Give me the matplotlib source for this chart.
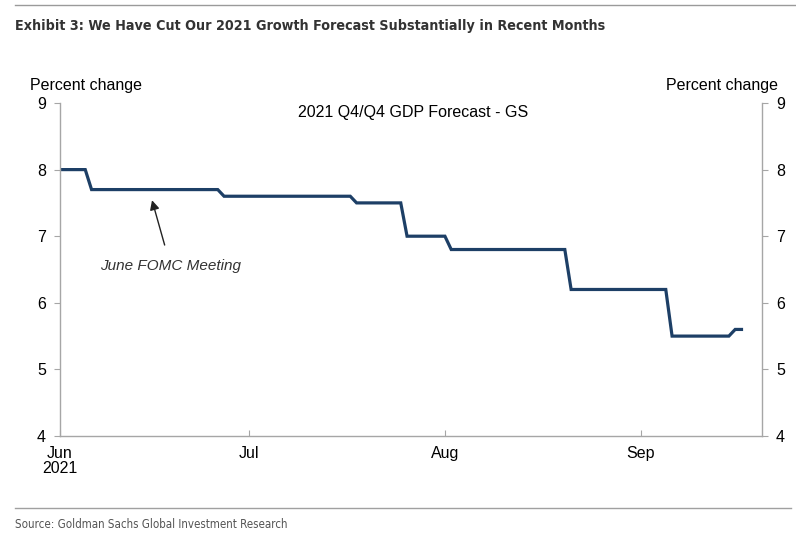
import matplotlib
matplotlib.use("Agg")
import matplotlib.pyplot as plt
import matplotlib.dates as mdates
import numpy as np
import datetime as dt

plt.rcParams['font.family'] = ['Liberation Sans', 'DejaVu Sans']

# Vertices of the forecast line (date, percent change)
dates = ["2021-06-01", "2021-06-05", "2021-06-06", "2021-06-26", "2021-06-27",
         "2021-07-17", "2021-07-18", "2021-07-25", "2021-07-26", "2021-08-01",
         "2021-08-02", "2021-08-20", "2021-08-21", "2021-09-05", "2021-09-06",
         "2021-09-15", "2021-09-16", "2021-09-17"]
values = [8.0, 8.0, 7.7, 7.7, 7.6,
          7.6, 7.5, 7.5, 7.0, 7.0,
          6.8, 6.8, 6.2, 6.2, 5.5,
          5.5, 5.6, 5.6]

tick_dates = ["2021-06-01", "2021-07-01", "2021-08-01", "2021-09-01"]
tick_labels = ["Jun\n2021", "Jul", "Aug", "Sep"]
yticks = [4, 5, 6, 7, 8, 9]

x = [dt.datetime.strptime(d, "%Y-%m-%d") for d in dates]
xt = [dt.datetime.strptime(d, "%Y-%m-%d") for d in tick_dates]

fig = plt.figure(figsize=(7.96, 5.35), dpi=100)
ax = fig.add_axes([60/796, 1-436/535, (762-60)/796, (436-103)/535])

line_color = "#1d3f66"
ax.plot(x, values, color=line_color, lw=2.3, solid_joinstyle='miter')

ax.set_xlim(dt.datetime(2021, 6, 1), dt.datetime(2021, 9, 20, 6))
ax.set_ylim(4, 9)
ax.set_yticks(yticks)
ax.set_xticks(xt)
ax.set_xticklabels(tick_labels, fontsize=11.5, linespacing=1.0)

spine_c = "#a6a6a6"
for s in ['left', 'right', 'bottom']:
    ax.spines[s].set_color(spine_c)
    ax.spines[s].set_linewidth(1.0)
ax.spines['top'].set_visible(False)

ax.tick_params(axis='y', which='both', left=True, right=True, labelleft=True,
               labelright=True, direction='out', length=4, color=spine_c,
               labelsize=11.5, pad=6)
ax.tick_params(axis='x', direction='in', length=4, color=spine_c, labelsize=11.5, pad=7)

ax.text(-0.043, 1.03, "Percent change", transform=ax.transAxes, fontsize=11.5,
        ha='left', va='bottom')
ax.text(1.023, 1.03, "Percent change", transform=ax.transAxes, fontsize=11.5,
        ha='right', va='bottom')
ax.text(0.503, 0.995, "2021 Q4/Q4 GDP Forecast - GS", transform=ax.transAxes,
        fontsize=11.5, ha='center', va='top')

ax.annotate("June FOMC Meeting", xy=(dt.datetime(2021, 6, 15, 14), 7.54),
            xytext=(dt.datetime(2021, 6, 18, 12), 6.56),
            fontsize=11, style='italic', color='#333333', ha='center', va='center',
            arrowprops=dict(arrowstyle='-|>', color='#222222', lw=1.0,
                            mutation_scale=14, shrinkA=8, shrinkB=0))

# Title and frame lines
fig.add_artist(plt.Line2D([15/796, 1.0], [1-5/535, 1-5/535], transform=fig.transFigure,
                          color="#9a9a9a", lw=1.0))
fig.text(15/796, 1-26/535, "Exhibit 3: We Have Cut Our 2021 Growth Forecast Substantially in Recent Months",
         fontsize=10.3, fontweight='bold', color="#333333", ha='left', va='center',
         family='DejaVu Sans', fontstretch='condensed')
fig.add_artist(plt.Line2D([15/796, 791/796], [1-508/535, 1-508/535], transform=fig.transFigure,
                          color="#a0a0a0", lw=1.0))
fig.text(15/796, 1-524/535, "Source: Goldman Sachs Global Investment Research",
         fontsize=8.3, color="#555555", ha='left', va='center',
         family='DejaVu Sans', fontstretch='condensed')

fig.savefig("out.png", dpi=100)
